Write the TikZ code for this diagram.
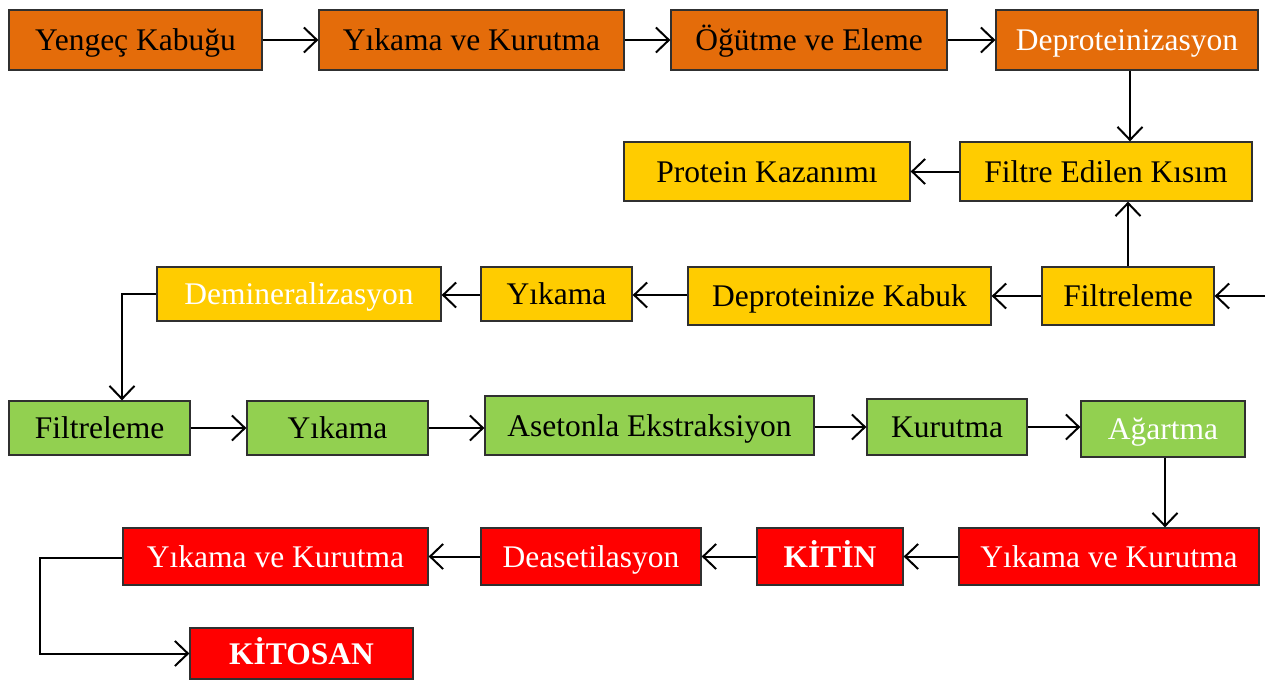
\documentclass[tikz,border=0pt]{standalone}
\usepackage{fontspec}
\setmainfont{Liberation Serif}
\usetikzlibrary{arrows.meta}
\definecolor{corange}{HTML}{E46C0A}
\definecolor{cyellow}{HTML}{FFCC00}
\definecolor{cgreen}{HTML}{92D050}
\definecolor{cred}{HTML}{FF0000}
\definecolor{cborder}{HTML}{303030}
\tikzset{
  box/.style={draw=cborder, line width=1.3pt, rectangle, inner sep=0pt,
    font=\fontsize{31.5}{36}\selectfont, text height=21pt, text depth=0pt},
  ob/.style={box, fill=corange},
  yb/.style={box, fill=cyellow},
  gb/.style={box, fill=cgreen},
  rb/.style={box, fill=cred, text=white},
  arr/.style={line width=2pt, -{Straight Barb[length=13pt,width=25pt,line width=2pt]}},
}
% \bx{name}{style}{x1}{y1}{x2}{y2}{text}
\newcommand{\bx}[7]{%
  \pgfmathsetmacro{\cx}{(#3+#5)/2}%
  \pgfmathsetmacro{\cy}{(#4+#6)/2}%
  \pgfmathsetmacro{\ww}{#5-#3}%
  \pgfmathsetmacro{\hh}{#6-#4}%
  \node[#2, minimum width=\ww pt, minimum height=\hh pt] (#1) at (\cx,\cy) {#7};}
\begin{document}
\begin{tikzpicture}[x=1pt,y=-1pt]
\useasboundingbox (0,0) rectangle (1268,680);
% row 1
\bx{a1}{ob}{9}{10}{262}{70}{Yengeç Kabuğu}
\bx{a2}{ob}{319}{10}{624}{70}{Yıkama ve Kurutma}
\bx{a3}{ob}{671}{10}{947}{70}{Öğütme ve Eleme}
\bx{a4}{ob,text=white}{996}{10}{1258}{70}{Deproteinizasyon}
% row 2
\bx{b1}{yb}{960}{142}{1252}{201}{Filtre Edilen Kısım}
\bx{b2}{yb}{624}{142}{910}{201}{Protein Kazanımı}
% row 3
\bx{c1}{yb}{1042}{267}{1214}{325}{Filtreleme}
\bx{c2}{yb}{688}{267}{991}{325}{Deproteinize Kabuk}
\bx{c3}{yb}{481}{267}{632}{321}{Yıkama}
\bx{c4}{yb,text=white}{157}{267}{441}{321}{Demineralizasyon}
% row 4
\bx{d1}{gb}{9}{401}{190}{455}{Filtreleme}
\bx{d2}{gb}{247}{401}{428}{455}{Yıkama}
\bx{d3}{gb}{485}{396}{814}{455}{Asetonla Ekstraksiyon}
\bx{d4}{gb}{867}{399}{1027}{455}{Kurutma}
\bx{d5}{gb,text=white}{1081}{401}{1245}{457}{Ağartma}
% row 5
\bx{e1}{rb}{959}{528}{1259}{585}{Yıkama ve Kurutma}
\bx{e2}{rb}{757}{528}{903}{585}{\bfseries KİTİN}
\bx{e3}{rb}{481}{528}{701}{585}{Deasetilasyon}
\bx{e4}{rb}{123}{528}{428}{585}{Yıkama ve Kurutma}
\bx{f1}{rb}{190}{628}{413}{679}{\bfseries KİTOSAN}
% connectors
\draw[arr] (a1) -- (a2);
\draw[arr] (a2) -- (a3);
\draw[arr] (a3) -- (a4);
\draw[arr] (a4.south -| 1130,0) -- (b1.north -| 1130,0);
\draw[arr] (b1) -- (b2);
\draw[arr] (c1.north -| 1128,0) -- (b1.south -| 1128,0);
\coordinate (cin) at (1265,296);
\draw[arr] (cin) -- (c1.east);
\draw[arr] (c1) -- (c2);
\draw[arr] (c2.west |- 0,295) -- (c3.east |- 0,295);
\draw[arr] (c3.west |- 0,295) -- (c4.east |- 0,295);
\coordinate (k1) at (122,294);
\draw[arr] (c4.west |- k1) -- (k1) -- (k1 |- d1.north);
\draw[arr] (d1.east |- 0,428) -- (d2.west |- 0,428);
\draw[arr] (d2.east |- 0,428) -- (d3.west |- 0,428);
\draw[arr] (d3.east |- 0,427) -- (d4.west |- 0,427);
\draw[arr] (d4.east |- 0,427) -- (d5.west |- 0,427);
\draw[arr] (d5.south -| 1165,0) -- (e1.north -| 1165,0);
\draw[arr] (e1) -- (e2);
\draw[arr] (e2) -- (e3);
\draw[arr] (e3) -- (e4);
\coordinate (k2) at (40,558);
\draw[arr] (e4.west |- k2) -- (k2) -- (k2 |- f1.west) -- (f1.west);
\end{tikzpicture}
\end{document}
